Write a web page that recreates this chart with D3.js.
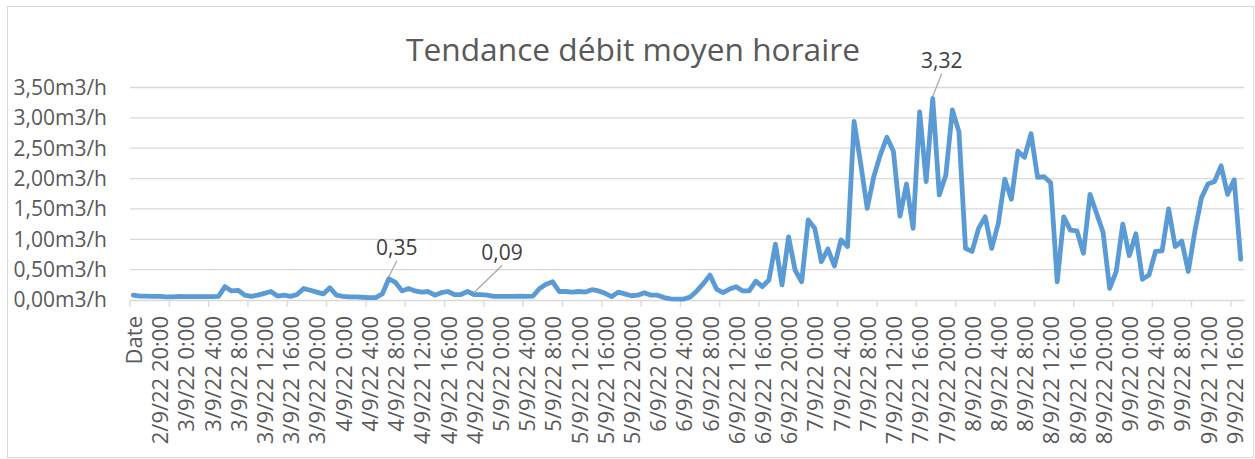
<!DOCTYPE html>
<html>
<head>
<meta charset="utf-8">
<script src="https://cdn.jsdelivr.net/npm/d3@7"></script>
<style>
  body { margin: 0; background: #fff; }
  text { font-family: "Open Sans", sans-serif; }
</style>
</head>
<body>
<script>
var width = 1255, height = 459;

// hourly mean flow, first category is the "Date" header row, then 2/9/22 17:00 onwards
var values = [
  0.08, 0.065, 0.065, 0.06, 0.06, 0.05, 0.05, 0.06, 0.055, 0.055,
  0.055, 0.055, 0.055, 0.06, 0.22, 0.15, 0.16, 0.08, 0.06, 0.08,
  0.11, 0.14, 0.065, 0.08, 0.06, 0.09, 0.19, 0.16, 0.13, 0.10,
  0.20, 0.08, 0.06, 0.05, 0.05, 0.045, 0.04, 0.04, 0.10, 0.35,
  0.29, 0.15, 0.19, 0.15, 0.13, 0.14, 0.08, 0.12, 0.14, 0.09,
  0.09, 0.14, 0.09, 0.09, 0.08, 0.06, 0.06, 0.06, 0.06, 0.065,
  0.06, 0.065, 0.19, 0.26, 0.30, 0.14, 0.14, 0.13, 0.14, 0.13,
  0.17, 0.15, 0.11, 0.055, 0.13, 0.10, 0.07, 0.08, 0.12, 0.08,
  0.08, 0.04, 0.02, 0.015, 0.015, 0.05, 0.15, 0.27, 0.41, 0.18,
  0.12, 0.18, 0.22, 0.15, 0.15, 0.31, 0.22, 0.33, 0.92, 0.25,
  1.04, 0.49, 0.30, 1.32, 1.18, 0.63, 0.84, 0.56, 0.99, 0.88,
  2.94, 2.25, 1.51, 2.03, 2.39, 2.68, 2.45, 1.38, 1.91, 1.18,
  3.10, 1.95, 3.32, 1.73, 2.06, 3.13, 2.77, 0.85, 0.80, 1.18,
  1.37, 0.85, 1.26, 1.99, 1.66, 2.45, 2.35, 2.74, 2.02, 2.03,
  1.93, 0.30, 1.37, 1.15, 1.14, 0.77, 1.74, 1.43, 1.11, 0.19,
  0.47, 1.25, 0.73, 1.09, 0.34, 0.41, 0.80, 0.81, 1.50, 0.88,
  0.97, 0.47, 1.13, 1.68, 1.91, 1.95, 2.21, 1.74, 1.98, 0.67
];

// axis labels shown every 4th category
var tickLabels = [
  "Date", "2/9/22 20:00",
  "3/9/22 0:00", "3/9/22 4:00", "3/9/22 8:00", "3/9/22 12:00", "3/9/22 16:00", "3/9/22 20:00",
  "4/9/22 0:00", "4/9/22 4:00", "4/9/22 8:00", "4/9/22 12:00", "4/9/22 16:00", "4/9/22 20:00",
  "5/9/22 0:00", "5/9/22 4:00", "5/9/22 8:00", "5/9/22 12:00", "5/9/22 16:00", "5/9/22 20:00",
  "6/9/22 0:00", "6/9/22 4:00", "6/9/22 8:00", "6/9/22 12:00", "6/9/22 16:00", "6/9/22 20:00",
  "7/9/22 0:00", "7/9/22 4:00", "7/9/22 8:00", "7/9/22 12:00", "7/9/22 16:00", "7/9/22 20:00",
  "8/9/22 0:00", "8/9/22 4:00", "8/9/22 8:00", "8/9/22 12:00", "8/9/22 16:00", "8/9/22 20:00",
  "9/9/22 0:00", "9/9/22 4:00", "9/9/22 8:00", "9/9/22 12:00", "9/9/22 16:00"
];
var labelStep = 4, tickStep = 6;

var yTicks = [0, 0.5, 1, 1.5, 2, 2.5, 3, 3.5];

// labelled points (index into values)
var labelled = [39, 52, 122];

var margin = {left: 130, right: 11, top: 87.5, bottom: 159};

var svg = d3.select("body").append("svg")
    .attr("width", width)
    .attr("height", height);

// chart border
svg.append("rect")
    .attr("x", 7.5).attr("y", 6.5)
    .attr("width", 1246).attr("height", 451)
    .attr("fill", "none")
    .attr("stroke", "#d9d9d9");

svg.append("text")
    .attr("x", 633).attr("y", 61)
    .attr("text-anchor", "middle")
    .attr("font-size", 31.7)
    .attr("fill", "#595959")
    .text("Tendance débit moyen horaire");

var x = d3.scaleBand()
    .domain(d3.range(values.length))
    .range([margin.left, width - margin.right]);

var y = d3.scaleLinear()
    .domain([0, 3.5])
    .range([height - margin.bottom, margin.top]);

var fr = d3.formatLocale({decimal: ",", thousands: " ", grouping: [3], currency: ["", "€"]});
var fmt2 = fr.format(".2f");

// gridlines + y labels
var gy = svg.append("g");
gy.selectAll("line")
    .data(yTicks.slice(1))
    .enter().append("line")
    .attr("x1", margin.left).attr("x2", width - margin.right)
    .attr("y1", function(d) { return y(d); })
    .attr("y2", function(d) { return y(d); })
    .attr("stroke", "#d9d9d9")
    .attr("stroke-width", 1.3);
gy.selectAll("text")
    .data(yTicks)
    .enter().append("text")
    .attr("x", 107)
    .attr("y", function(d) { return y(d); })
    .attr("dy", "0.35em")
    .attr("text-anchor", "end")
    .attr("font-size", 21)
    .attr("fill", "#595959")
    .text(function(d) { return fmt2(d) + "m3/h"; });

// category axis
var xAxis = d3.axisBottom(x)
    .tickValues(d3.range(0, values.length, labelStep))
    .tickFormat(function(d) { return tickLabels[d / labelStep]; })
    .tickSize(0);

var gx = svg.append("g")
    .attr("transform", "translate(0," + y(0) + ")")
    .call(xAxis);
gx.select(".domain").attr("stroke", "#d9d9d9").attr("stroke-width", 1.3);
gx.selectAll(".tick text")
    .attr("font-family", "Open Sans")
    .attr("font-size", 22)
    .attr("fill", "#595959")
    .attr("transform", "rotate(-90)")
    .attr("text-anchor", "end")
    .attr("x", -16)
    .attr("y", 1)
    .attr("dy", "0.35em");

// tick marks on category boundaries
gx.selectAll(".bound")
    .data(d3.range(0, values.length + 1, tickStep))
    .enter().append("line")
    .attr("class", "bound")
    .attr("x1", function(d) { return margin.left + d * x.step(); })
    .attr("x2", function(d) { return margin.left + d * x.step(); })
    .attr("y1", 0).attr("y2", 7)
    .attr("stroke", "#d9d9d9")
    .attr("stroke-width", 1.3);

// the line
var line = d3.line()
    .x(function(d, i) { return x(i) + x.bandwidth() / 2; })
    .y(function(d) { return y(d); })
    .curve(d3.curveLinear);

svg.append("path")
    .datum(values)
    .attr("d", line)
    .attr("fill", "none")
    .attr("stroke", "#5b9bd5")
    .attr("stroke-width", 4.8)
    .attr("stroke-linejoin", "round")
    .attr("stroke-linecap", "round");

// data labels with leader lines
var offsets = {39: [8, -31], 52: [28, -42], 122: [9, -38]};
var ann = svg.append("g");
labelled.forEach(function(i) {
    var px = x(i) + x.bandwidth() / 2, py = y(values[i]);
    var o = offsets[i];
    ann.append("line")
        .attr("x1", px).attr("y1", py - 2)
        .attr("x2", px + o[0]).attr("y2", py + o[1] + 13)
        .attr("stroke", "#a6a6a6")
        .attr("stroke-width", 1.2);
    ann.append("text")
        .attr("x", px + o[0]).attr("y", py + o[1])
        .attr("dy", "0.35em")
        .attr("text-anchor", "middle")
        .attr("font-size", 21)
        .attr("fill", "#404040")
        .text(fmt2(values[i]));
});
</script>
</body>
</html>
